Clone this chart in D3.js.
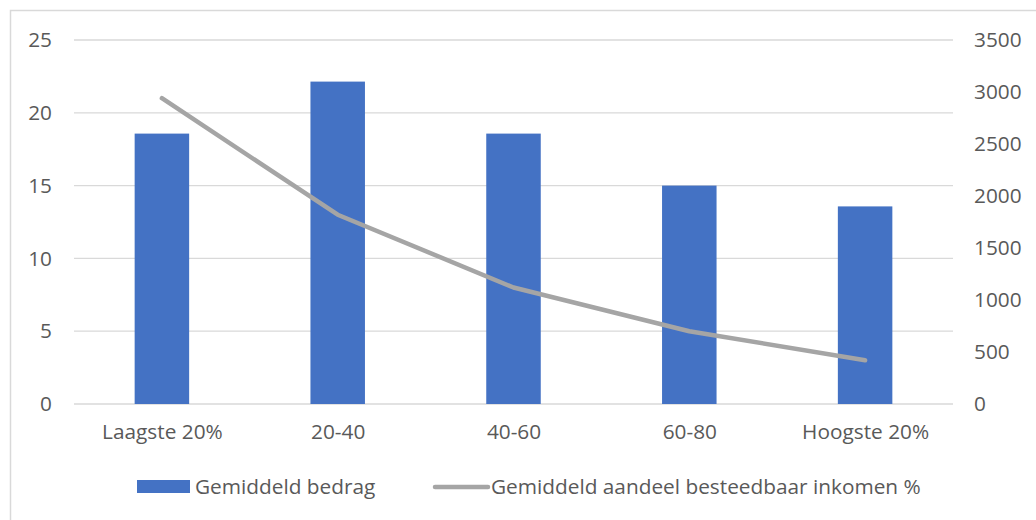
<!DOCTYPE html>
<html>
<head>
<meta charset="utf-8">
<script src="https://cdn.jsdelivr.net/npm/d3@7"></script>
<style>
  body { margin: 0; background: #fff; }
  svg text { font-family: "Open Sans", "Noto Sans", sans-serif; fill: #595959; }
</style>
</head>
<body>
<div id="chart"></div>
<script>
const categories = ["Laagste 20%", "20-40", "40-60", "60-80", "Hoogste 20%"];
// Gemiddeld bedrag (right axis)
const bedrag = [2600, 3100, 2600, 2100, 1900];
// Gemiddeld aandeel besteedbaar inkomen % (left axis)
const aandeel = [21, 13, 8, 5, 3];
const leftTicks = [0, 5, 10, 15, 20, 25];
const rightTicks = [0, 500, 1000, 1500, 2000, 2500, 3000, 3500];

const width = 1036, height = 520;
const margin = { top: 40, right: 83, bottom: 116, left: 74 };
const fontSize = "20.8px";

const svg = d3.select("#chart").append("svg")
    .attr("width", width)
    .attr("height", height);

// chart frame
svg.append("rect")
    .attr("x", 10.5).attr("y", 10.5)
    .attr("width", width + 20).attr("height", height + 20)
    .attr("fill", "none")
    .attr("stroke", "#d9d9d9")
    .attr("stroke-width", 1.5);

const x = d3.scaleBand()
    .domain(categories)
    .range([margin.left, width - margin.right])
    .paddingInner(0.69)
    .paddingOuter(0.345);

const xCenter = d3.scalePoint()
    .domain(categories)
    .range([margin.left, width - margin.right])
    .padding(0.5);

const yLeft = d3.scaleLinear().domain([0, 25]).range([height - margin.bottom, margin.top]);
const yRight = d3.scaleLinear().domain([0, 3500]).range([height - margin.bottom, margin.top]);

// gridlines
svg.append("g")
    .selectAll("line")
    .data(leftTicks)
    .enter().append("line")
    .attr("x1", margin.left)
    .attr("x2", width - margin.right)
    .attr("y1", d => yLeft(d))
    .attr("y2", d => yLeft(d))
    .attr("stroke", "#d9d9d9")
    .attr("stroke-width", 1.3);

// bars
svg.append("g")
    .selectAll("rect")
    .data(bedrag)
    .enter().append("rect")
    .attr("x", (d, i) => x(categories[i]))
    .attr("y", d => yRight(d))
    .attr("width", x.bandwidth())
    .attr("height", d => yRight(0) - yRight(d))
    .attr("fill", "#4472c4");

// line
const line = d3.line()
    .x((d, i) => xCenter(categories[i]))
    .y(d => yLeft(d));

svg.append("path")
    .datum(aandeel)
    .attr("d", line)
    .attr("fill", "none")
    .attr("stroke", "#a5a5a5")
    .attr("stroke-width", 4.5)
    .attr("stroke-linecap", "round")
    .attr("stroke-linejoin", "round");

// left axis
svg.append("g")
    .attr("transform", "translate(52,0)")
    .call(d3.axisLeft(yLeft).tickValues(leftTicks).tickSize(0).tickPadding(0))
    .call(g => g.select(".domain").remove());

// right axis
svg.append("g")
    .attr("transform", "translate(974,0)")
    .call(d3.axisRight(yRight).tickValues(rightTicks).tickFormat(d3.format("d")).tickSize(0).tickPadding(0))
    .call(g => g.select(".domain").remove());

// x axis
svg.append("g")
    .attr("transform", `translate(0,${height - margin.bottom + 20})`)
    .call(d3.axisBottom(xCenter).tickSize(0).tickPadding(0))
    .call(g => g.select(".domain").remove());

svg.selectAll("g[font-family]").attr("font-family", null).attr("font-size", fontSize);
svg.selectAll(".tick text").attr("fill", "#595959");

// legend
const legend = svg.append("g").attr("transform", "translate(0,487)");
legend.append("rect")
    .attr("x", 137).attr("y", -7)
    .attr("width", 53).attr("height", 13)
    .attr("fill", "#4472c4");
legend.append("text")
    .attr("x", 195).attr("y", 0)
    .attr("dy", "0.35em")
    .attr("font-size", fontSize)
    .text("Gemiddeld bedrag");
legend.append("line")
    .attr("x1", 435).attr("x2", 488)
    .attr("y1", 0).attr("y2", 0)
    .attr("stroke", "#a5a5a5")
    .attr("stroke-width", 4.5)
    .attr("stroke-linecap", "round");
legend.append("text")
    .attr("x", 491).attr("y", 0)
    .attr("dy", "0.35em")
    .attr("font-size", fontSize)
    .text("Gemiddeld aandeel besteedbaar inkomen %");
</script>
</body>
</html>
